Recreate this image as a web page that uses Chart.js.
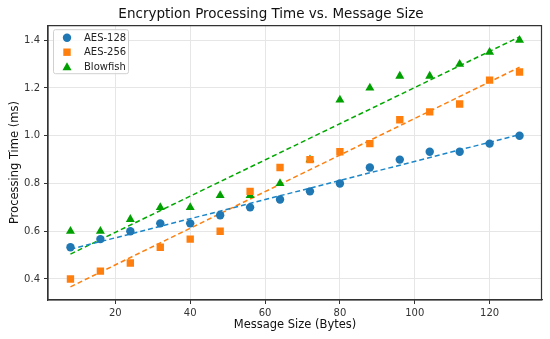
<!DOCTYPE html>
<html>
<head>
<meta charset="utf-8">
<script src="https://cdn.jsdelivr.net/npm/chart.js@4"></script>
<style>
  html, body { margin: 0; padding: 0; background: #fff; }
  #wrap { width: 550px; height: 339px; }
</style>
</head>
<body>
<div id="wrap"><canvas id="myChart" width="550" height="339"></canvas></div>
<script>
// message sizes (bytes)
const sizes = [8, 16, 24, 32, 40, 48, 56, 64, 72, 80, 88, 96, 104, 112, 120, 128];
// processing times (ms)
const aes128 = [0.533, 0.567, 0.600, 0.633, 0.633, 0.667, 0.700, 0.733, 0.767, 0.800, 0.867, 0.900, 0.933, 0.933, 0.967, 1.000];
const aes256 = [0.400, 0.433, 0.467, 0.533, 0.567, 0.600, 0.767, 0.867, 0.900, 0.933, 0.967, 1.067, 1.100, 1.133, 1.233, 1.267];
const blowfish = [0.60, 0.60, 0.65, 0.70, 0.70, 0.75, 0.75, 0.80, 0.90, 1.15, 1.20, 1.25, 1.25, 1.30, 1.35, 1.40];
const seriesNames = ['AES-128', 'AES-256', 'Blowfish'];
const xTicks = [20, 40, 60, 80, 100, 120];
const yTicks = [0.4, 0.6, 0.8, 1.0, 1.2, 1.4];

const colors = ['#1f77b4', '#ff7f0e', '#00a000'];
const lineColors = ['#1a86c9', '#ff7f0e', '#00a800'];
const shapes = ['circle', 'rect', 'triangle'];
const font = "'DejaVu Sans', sans-serif";

// least squares fit, like np.polyfit(x, y, 1)
function trend(xs, ys) {
    const n = xs.length;
    let sx = 0, sy = 0, sxx = 0, sxy = 0;
    for (let i = 0; i < n; i++) {
        sx += xs[i]; sy += ys[i]; sxx += xs[i] * xs[i]; sxy += xs[i] * ys[i];
    }
    const m = (n * sxy - sx * sy) / (n * sxx - sx * sx);
    const b = (sy - m * sx) / n;
    const first = xs[0], last = xs[n - 1];
    return [{x: first, y: m * first + b}, {x: last, y: m * last + b}];
}

const allSeries = [aes128, aes256, blowfish];
const datasets = [];
allSeries.forEach((vals, i) => {
    datasets.push({
        label: seriesNames[i],
        data: sizes.map((s, j) => ({x: s, y: vals[j]})),
        showLine: false,
        pointStyle: shapes[i],
        pointRadius: i == 0 ? 4.2 : 5.2,
        pointBackgroundColor: colors[i],
        pointBorderColor: colors[i],
        pointBorderWidth: 0,
        order: 1
    });
});
allSeries.forEach((vals, i) => {
    datasets.push({
        label: seriesNames[i] + ' trend',
        data: trend(sizes, vals),
        showLine: true,
        borderColor: lineColors[i],
        borderWidth: 1.5,
        borderDash: [5, 3],
        pointRadius: 0,
        fill: false,
        order: 2
    });
});

// frame round the plot + legend in the upper left
const framePlugin = {
    id: 'frame',
    afterDraw(chart) {
        const a = chart.chartArea;
        const ctx = chart.ctx;
        ctx.save();
        ctx.strokeStyle = '#333';
        ctx.lineWidth = 1.2;
        ctx.beginPath();
        ctx.moveTo(a.left, a.top + 0.5);
        ctx.lineTo(a.right - 0.5, a.top + 0.5);
        ctx.lineTo(a.right - 0.5, a.bottom);
        ctx.lineTo(a.left, a.bottom);
        ctx.lineTo(a.left, a.top);
        ctx.stroke();

        // legend
        const bx = a.left + 5, by = a.top + 4, bw = 75, bh = 44;
        ctx.fillStyle = 'rgba(255,255,255,0.8)';
        ctx.strokeStyle = '#d0d0d0';
        ctx.lineWidth = 1;
        ctx.beginPath();
        ctx.roundRect(bx + 0.5, by + 0.5, bw, bh, 2);
        ctx.fill();
        ctx.stroke();
        ctx.font = '10px ' + font;
        ctx.textBaseline = 'middle';
        seriesNames.forEach((name, i) => {
            const cy = by + 8.5 + i * 14.5;
            const cx = bx + 14;
            ctx.fillStyle = colors[i];
            ctx.beginPath();
            if (i == 0) {
                ctx.arc(cx, cy, 4.2, 0, Math.PI * 2);
            } else if (i == 1) {
                ctx.rect(cx - 3.7, cy - 3.7, 7.4, 7.4);
            } else {
                ctx.moveTo(cx, cy - 4.5);
                ctx.lineTo(cx + 4.5, cy + 3.5);
                ctx.lineTo(cx - 4.5, cy + 3.5);
                ctx.closePath();
            }
            ctx.fill();
            ctx.fillStyle = '#222';
            ctx.fillText(name, bx + 31, cy + 0.5);
        });
        ctx.restore();
    }
};

const ctx = document.getElementById('myChart').getContext('2d');
const myChart = new Chart(ctx, {
    type: 'scatter',
    data: { datasets: datasets },
    plugins: [framePlugin],
    options: {
        responsive: false,
        animation: false,
        devicePixelRatio: 1,
        layout: { padding: { left: 0, right: 8, top: 0, bottom: 0 } },
        plugins: {
            legend: { display: false },
            tooltip: { enabled: false },
            title: {
                display: true,
                text: 'Encryption Processing Time vs. Message Size',
                color: '#111',
                font: { family: font, size: 13.5, weight: 'normal' },
                padding: { top: 6, bottom: 3 }
            }
        },
        scales: {
            x: {
                type: 'linear',
                min: 2,
                max: 134,
                afterBuildTicks: (s) => { s.ticks = xTicks.map(v => ({value: v})); },
                afterFit: (s) => { s.height = 39; },
                grid: { color: '#e6e6e6', tickColor: '#333', tickLength: 4, drawTicks: true },
                border: { color: '#333', width: 1.2 },
                ticks: { color: '#333', font: { family: font, size: 10 }, padding: 3, maxRotation: 0 },
                title: {
                    display: true,
                    text: 'Message Size (Bytes)',
                    color: '#111',
                    font: { family: font, size: 11.5 },
                    padding: { top: 0, bottom: 7 }
                }
            },
            y: {
                type: 'linear',
                min: 0.312,
                max: 1.463,
                afterBuildTicks: (s) => { s.ticks = yTicks.map(v => ({value: v})); },
                afterFit: (s) => { s.width = 48; },
                grid: { color: '#e6e6e6', tickColor: '#333', tickLength: 4, drawTicks: true },
                border: { color: '#333', width: 1.2 },
                ticks: {
                    color: '#333',
                    font: { family: font, size: 10 },
                    padding: 4,
                    callback: (v) => v.toFixed(1)
                },
                title: {
                    display: true,
                    text: 'Processing Time (ms)',
                    color: '#111',
                    font: { family: font, size: 11.5 },
                    padding: { top: 8, bottom: 0 }
                }
            }
        }
    }
});
</script>
</body>
</html>
